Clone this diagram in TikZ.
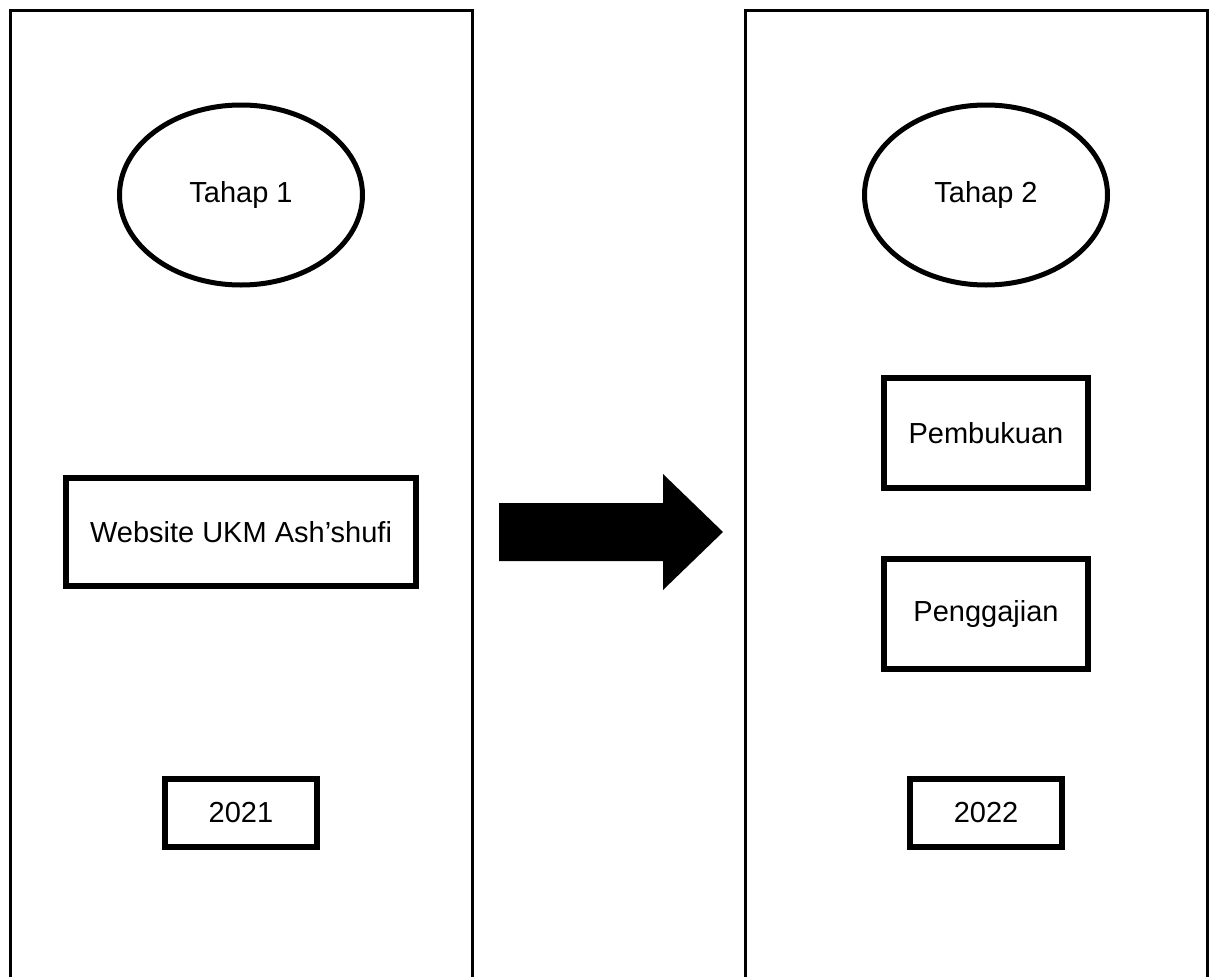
\documentclass[tikz,border=0pt]{standalone}
\usepackage{fontspec}
\setmainfont{Liberation Sans}
\usetikzlibrary{positioning,shapes.geometric}

\begin{document}
\begin{tikzpicture}[x=1pt,y=-1pt,node distance=62pt,
                    panelbox/.style={draw=black, line width=3pt},
                    stagenode/.style={ellipse, draw=black, line width=5pt, minimum width=243pt, minimum height=180pt, inner sep=0pt},
                    itemnode/.style={rectangle, draw=black, line width=6pt, inner sep=0pt},
                    every node/.style={font=\fontsize{29}{34}\selectfont}]
    \useasboundingbox (0,0) rectangle (1213,977);

    % two stages
    \draw[panelbox] (10,990) -- (10,10) -- (472,10) -- (472,990);
    \draw[panelbox] (745,990) -- (745,10) -- (1207,10) -- (1207,990);

    \node[stagenode]                                          (T1) at (241,195) {Tahap 1};
    \node[itemnode, minimum width=350pt, minimum height=108pt] (W)  at (241,532) {Website UKM Ash'shufi};
    \node[itemnode, minimum width=152pt, minimum height=68pt]  (Y1) at (241,813) {2021};

    \node[stagenode]                                          (T2) at (986,195) {Tahap 2};
    \node[itemnode, minimum width=204pt, minimum height=110pt] (P)  at (986,433) {Pembukuan};
    \node[itemnode, minimum width=204pt, minimum height=110pt] (G)  [below=65pt of P] {Penggajian};
    \node[itemnode, minimum width=152pt, minimum height=68pt]  (Y2) at (986,813) {2022};

    % block arrow
    \fill[black] (499,503) -- (663,503) -- (663,474) -- (723,532) -- (663,590) -- (663,561) -- (499,561) -- cycle;
\end{tikzpicture}
\end{document}
